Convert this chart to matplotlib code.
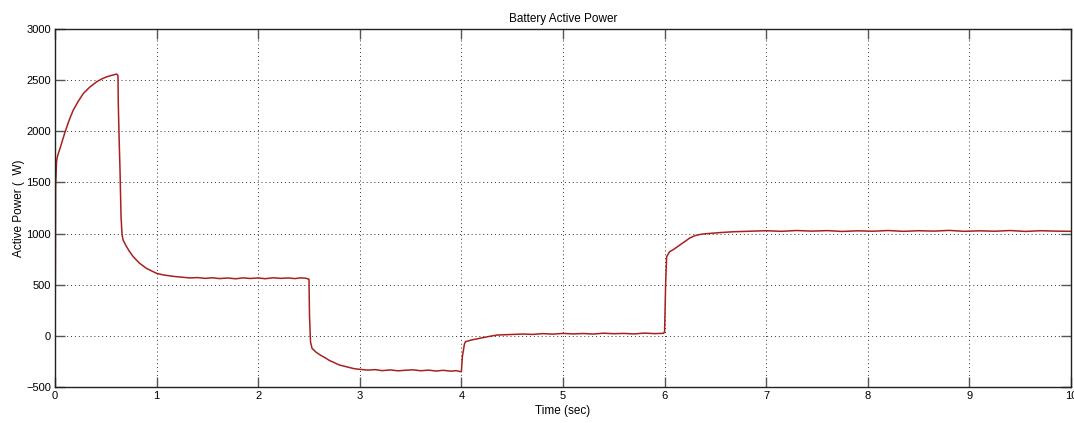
import matplotlib
matplotlib.use("Agg")
import matplotlib.pyplot as plt

# Data (time in s, power in W)
t_start = [0.0, 0.002, 0.004, 0.006, 0.010, 0.015, 0.023, 0.035, 0.05, 0.07, 0.10, 0.14,
           0.18, 0.23, 0.28, 0.34, 0.41, 0.46, 0.51, 0.55, 0.59, 0.605, 0.617]
p_start = [0, 350, 600, 1450, 1550, 1700, 1750, 1790, 1833, 1900, 1996, 2110,
           2208, 2295, 2371, 2430, 2484, 2512, 2533, 2545, 2555, 2560, 2550]

t_drop1 = [0.620, 0.623, 0.632, 0.640, 0.650, 0.660, 0.670, 0.70, 0.73, 0.77, 0.83,
           0.90, 0.97, 1.00, 1.07, 1.12, 1.18, 1.26, 1.33, 1.40, 1.48, 1.55, 1.62,
           1.70, 1.78, 1.85, 1.92, 2.00, 2.07, 2.15, 2.22, 2.30, 2.36, 2.42, 2.47, 2.50]
p_drop1 = [2540, 2273, 1900, 1621, 1165, 990, 937, 880, 830, 774, 712,
           660, 625, 611, 595, 588, 580, 572, 566, 570, 562, 568, 560,
           566, 558, 567, 561, 566, 559, 568, 562, 566, 560, 567, 563, 553]

t_drop2 = [2.505, 2.515, 2.53, 2.57, 2.61, 2.66, 2.70, 2.75, 2.80, 2.85, 2.90, 2.95,
           3.00, 3.08, 3.15, 3.22, 3.30, 3.38, 3.45, 3.52, 3.60, 3.68, 3.75,
           3.82, 3.90, 3.95, 3.99]
p_drop2 = [200, -60, -122, -160, -187, -215, -240, -262, -285, -298, -310, -322,
           -327, -335, -330, -340, -333, -342, -336, -332, -341, -335, -344,
           -337, -345, -340, -350]

t_rise1 = [4.00, 4.01, 4.03, 4.04, 4.10, 4.18, 4.26, 4.35, 4.45, 4.53, 4.61, 4.70,
           4.80, 4.90, 5.00, 5.10, 5.20, 5.30, 5.40, 5.50, 5.60, 5.70, 5.80, 5.90, 5.99]
p_rise1 = [-350, -200, -80, -57, -40, -24, -8, 8, 12, 16, 18, 14,
           22, 17, 24, 19, 23, 18, 26, 21, 24, 19, 27, 22, 25]

t_rise2 = [6.00, 6.01, 6.02, 6.05, 6.09, 6.15, 6.22, 6.25, 6.30, 6.35, 6.40, 6.45,
           6.55, 6.68, 6.80, 6.90, 7.00, 7.15, 7.30, 7.45, 7.60, 7.75, 7.90, 8.05,
           8.20, 8.35, 8.50, 8.65, 8.80, 8.95, 9.10, 9.25, 9.40, 9.55, 9.70, 9.85, 10.00]
p_rise2 = [40, 500, 774, 823, 846, 888, 937, 958, 980, 992, 998, 1002,
           1010, 1018, 1022, 1026, 1028, 1022, 1030, 1024, 1029, 1021, 1027, 1023,
           1030, 1022, 1028, 1024, 1031, 1022, 1027, 1023, 1030, 1021, 1028, 1024, 1022]

t = t_start + t_drop1 + t_drop2 + t_rise1 + t_rise2
p = p_start + p_drop1 + p_drop2 + p_rise1 + p_rise2

x_ticks = list(range(0, 11))
y_ticks = [-500, 0, 500, 1000, 1500, 2000, 2500, 3000]

plt.rcParams['font.family'] = ['Liberation Sans', 'DejaVu Sans']

fig = plt.figure(figsize=(10.74, 4.23), dpi=100)
ax = fig.add_axes([0.0512, 0.0851, 0.9460, 0.8463])

ax.plot(t, p, color='#a8201f', linewidth=1.1)

ax.set_xlim(0, 10)
ax.set_ylim(-500, 3000)
ax.set_xticks(x_ticks)
ax.set_yticks(y_ticks)
ax.grid(True, linestyle=(0, (1, 3)), color='#333333', linewidth=0.7)
ax.tick_params(direction='in', length=7, width=1, top=True, right=True,
               labelsize=8, color='#555555', pad=3)
for s in ax.spines.values():
    s.set_linewidth(1.0)
    s.set_color('#222222')

ax.set_title('Battery Active Power', fontsize=8.5, pad=5)
ax.set_xlabel('Time (sec)', fontsize=8.5, labelpad=3)
ax.set_ylabel('Active Power (  W)', fontsize=8.5, labelpad=0.5)

fig.savefig('out.png', dpi=100)
